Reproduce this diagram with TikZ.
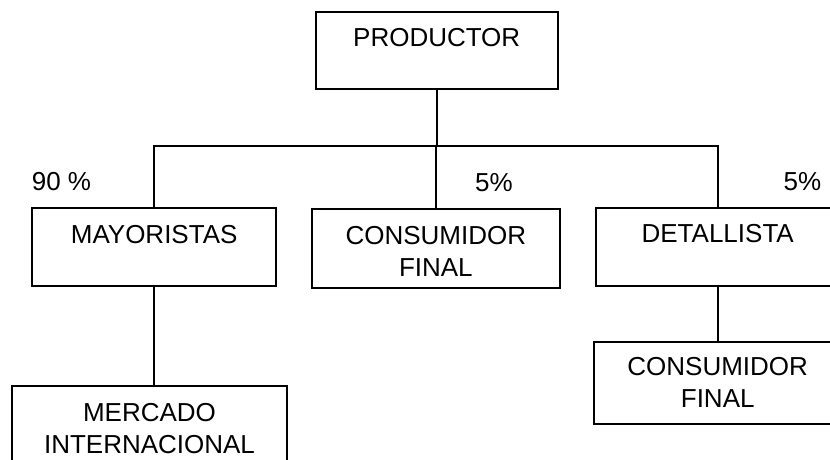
\documentclass[tikz,border=0pt]{standalone}
\usepackage{fontspec}
\setmainfont{Liberation Sans}
\usetikzlibrary{calc}
\begin{document}
\begin{tikzpicture}[x=1pt,y=-1pt,
  box/.style={draw,line width=2pt,rectangle,inner sep=0pt,outer sep=0pt,anchor=north west},
  lbl/.style={font=\fontsize{26}{32}\selectfont,align=center,inner sep=0pt,anchor=base},
  pct/.style={font=\fontsize{26}{32}\selectfont,inner sep=0pt,anchor=base},
  conn/.style={line width=2pt}]
\clip (0,0) rectangle (830,459);
\fill[white] (0,0) rectangle (830,459);
% boxes
\node[box,minimum width=242pt,minimum height=77.6pt] (prod) at (315.7,11.7) {};
\node[box,minimum width=243.7pt,minimum height=78.3pt] (may) at (32.3,207.7) {};
\node[box,minimum width=248.3pt,minimum height=79pt] (cons) at (311.7,209.3) {};
\node[box,minimum width=244pt,minimum height=78.3pt] (det) at (595.7,207.7) {};
\node[box,minimum width=247.4pt,minimum height=82.3pt] (cons2) at (594,341.7) {};
\node[box,minimum width=274.4pt,minimum height=90pt] (merc) at (12.3,385.7) {};
% texts (base anchor of a two-line node is the baseline of its last line)
\node[lbl] (tprod) at ($(prod.north)+(0,35)$) {PRODUCTOR};
\node[lbl] (tmay) at ($(may.north)+(0,35.6)$) {MAYORISTAS};
\node[lbl] (tcons) at ($(cons.north)+(0,67.4)$) {CONSUMIDOR\\FINAL};
\node[lbl] (tdet) at ($(det.north)+(0,35)$) {DETALLISTA};
\node[lbl] (tcons2) at ($(cons2.north)+(0,66)$) {CONSUMIDOR\\FINAL};
\node[lbl] (tmerc) at ($(merc.north)+(0,67.6)$) {MERCADO\\INTERNACIONAL};
% percentages
\node[pct] (p90) at (61.5,190.7) {90 \%};
\node[pct] (p5a) at (494,191) {5\%};
\node[pct] (p5b) at (802.5,190.7) {5\%};
% connectors
\coordinate (hub) at (435.7,145.7);
\draw[conn] (prod.south) -- (prod.south |- hub);
\draw[conn] (may.north) -- (may.north |- hub) -- (det.north |- hub) -- (det.north);
\draw[conn] (cons.north) -- (cons.north |- hub);
\draw[conn] (may.south) -- (may.south |- merc.north);
\draw[conn] (det.south) -- (cons2.north);
\end{tikzpicture}
\end{document}
